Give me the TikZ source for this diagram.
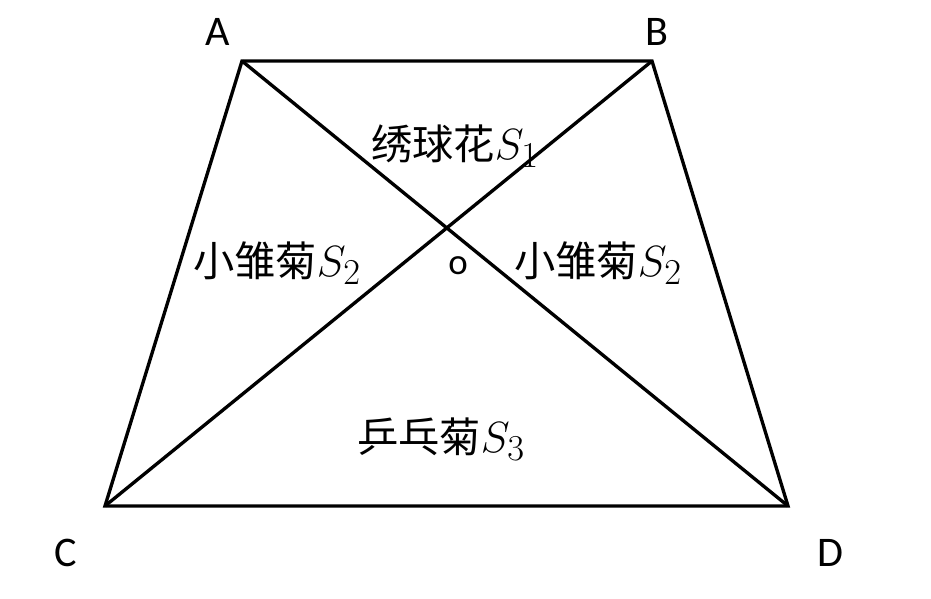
\documentclass[tikz,border=0pt]{standalone}
\usepackage{fontspec}
\setmainfont{Carlito}
\newfontfamily\cjk{Noto Sans CJK SC}
\usepackage{amsmath}
\newcommand{\area}[2]{{\cjk #1}{\fontsize{29}{29}\selectfont$S_{#2}$}}

\begin{document}
\begin{tikzpicture}[x=0.02cm,y=-0.02cm]
      \tikzstyle{every node} = [inner sep = 0pt]
      \tikzstyle{corner} = [font=\fontsize{24}{24}\selectfont]
      \tikzstyle{region} = [font=\fontsize{23.5}{23.5}\selectfont]
      \useasboundingbox (0,0) rectangle (931,599);

      \coordinate (A) at (242,61);
      \coordinate (B) at (652,61);
      \coordinate (C) at (105,506);
      \coordinate (D) at (788,506);

      \draw[line width=1.9pt] (A) -- (B) -- (D) -- (C) -- cycle;
      \draw[line width=1.9pt] (A) -- (D) (B) -- (C);

      \node[corner] (lA) at (218,32) {A};
      \node[corner] (lB) at (657,32) {B};
      \node[corner] (lC) at (66,553) {C};
      \node[corner] (lD) at (830,553) {D};
      \node[font=\fontsize{21}{21}\selectfont] (lO) at (458,266) {o};

      \node[region] (top) at (455,146) {\area{绣球花}{1}};
      \node[region] (left) at (277,263) {\area{小雏菊}{2}};
      \node[region] (right) at (598,263) {\area{小雏菊}{2}};
      \node[region] (bottom) at (441,439) {\area{乒乓菊}{3}};
\end{tikzpicture}
\end{document}
